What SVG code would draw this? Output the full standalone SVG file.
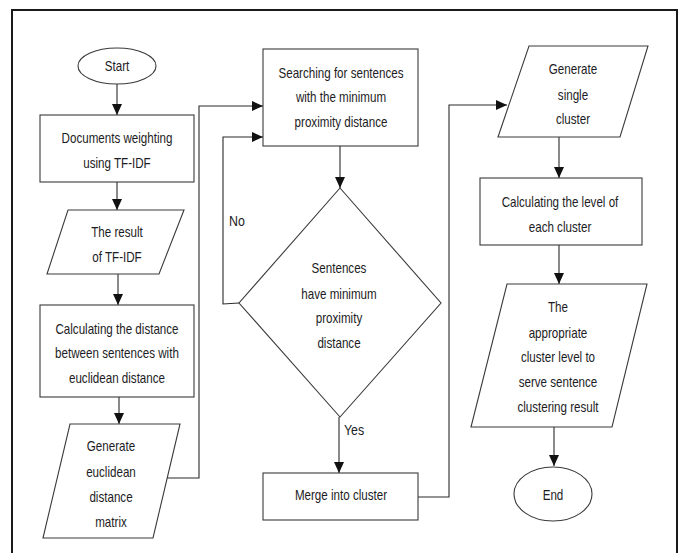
<svg xmlns="http://www.w3.org/2000/svg" width="683" height="553" viewBox="0 0 683 553">
  <style>
    .shape { fill: #ffffff; stroke: #3a3a3a; stroke-width: 1.1; }
    .wire { fill: none; stroke: #2a2a2a; stroke-width: 1.1; }
    .label { font-family: "Liberation Sans", Arial, sans-serif; font-size: 14.5px; fill: #1c1c24; text-anchor: middle; }
    .tag { font-family: "Liberation Sans", Arial, sans-serif; font-size: 15.5px; fill: #1c1c24; }
  </style>
  <defs>
    <marker id="arrow" markerUnits="userSpaceOnUse" markerWidth="12" markerHeight="10" refX="11" refY="5" orient="auto">
      <path d="M0,0 L11,5 L0,10 Z" fill="#111111"/>
    </marker>
  </defs>

  <rect width="683" height="553" fill="#ffffff"/>
  <!-- outer frame, open at the bottom -->
  <path d="M12,553 V10 H677 V553" fill="none" stroke="#1a1a1a" stroke-width="2"/>

  <!-- text is condensed horizontally (scale 0.8 about each column centre) -->
  <g id="connectors">
    <path class="wire" d="M117,84 V115" marker-end="url(#arrow)"/>
    <path class="wire" d="M117,182 V210" marker-end="url(#arrow)"/>
    <path class="wire" d="M118,274 V305" marker-end="url(#arrow)"/>
    <path class="wire" d="M119,397 V424" marker-end="url(#arrow)"/>
    <path class="wire" d="M167,478 H199 V106 H263" marker-end="url(#arrow)"/>
    <path class="wire" d="M340,146 V188" marker-end="url(#arrow)"/>
    <path class="wire" d="M239,303 L223,304 V137 H263" marker-end="url(#arrow)"/>
    <path class="wire" d="M339,417 V473" marker-end="url(#arrow)"/>
    <path class="wire" d="M418,497 H449 V105 H507" marker-end="url(#arrow)"/>
    <path class="wire" d="M559,137 V178" marker-end="url(#arrow)"/>
    <path class="wire" d="M559,245 V284" marker-end="url(#arrow)"/>
    <path class="wire" d="M554,427 V466" marker-end="url(#arrow)"/>
    <g transform="translate(45.8,0) scale(0.8,1)">
      <text class="tag" x="229" y="226">No</text>
    </g>
    <g transform="translate(68.8,0) scale(0.8,1)">
      <text class="tag" x="344" y="435">Yes</text>
    </g>
  </g>

  <g id="start">
    <ellipse class="shape" cx="117" cy="66" rx="39" ry="18"/>
    <g transform="translate(23.4,0) scale(0.8,1)">
      <text class="label" x="117" y="71">Start</text>
    </g>
  </g>

  <g id="weighting">
    <rect class="shape" x="40" y="115" width="154" height="67"/>
    <g transform="translate(23.4,0) scale(0.8,1)">
      <text class="label" x="117" y="143">Documents weighting</text>
      <text class="label" x="117" y="168">using TF-IDF</text>
    </g>
  </g>

  <g id="tfidf-result">
    <polygon class="shape" points="68,210 184,210 159,274 47,274"/>
    <g transform="translate(23.4,0) scale(0.8,1)">
      <text class="label" x="117" y="237">The result</text>
      <text class="label" x="117" y="262">of TF-IDF</text>
    </g>
  </g>

  <g id="distance">
    <rect class="shape" x="40" y="305" width="154" height="92"/>
    <g transform="translate(23.4,0) scale(0.8,1)">
      <text class="label" x="117" y="334">Calculating the distance</text>
      <text class="label" x="117" y="358">between sentences with</text>
      <text class="label" x="117" y="383">euclidean distance</text>
    </g>
  </g>

  <g id="matrix">
    <polygon class="shape" points="70,424 180,424 153,538 43,538"/>
    <g transform="translate(22.2,0) scale(0.8,1)">
      <text class="label" x="111" y="451">Generate</text>
      <text class="label" x="111" y="477">euclidean</text>
      <text class="label" x="111" y="502">distance</text>
      <text class="label" x="111" y="527">matrix</text>
    </g>
  </g>

  <g id="search">
    <rect class="shape" x="263" y="49" width="155" height="97"/>
    <g transform="translate(68.2,0) scale(0.8,1)">
      <text class="label" x="341" y="78">Searching for sentences</text>
      <text class="label" x="341" y="102">with the minimum</text>
      <text class="label" x="341" y="127">proximity distance</text>
    </g>
  </g>

  <g id="decision">
    <polygon class="shape" points="340,188 441,303 340,417 239,303"/>
    <g transform="translate(67.8,0) scale(0.8,1)">
      <text class="label" x="339" y="273">Sentences</text>
      <text class="label" x="339" y="299">have minimum</text>
      <text class="label" x="339" y="323">proximity</text>
      <text class="label" x="339" y="348">distance</text>
    </g>
  </g>

  <g id="merge">
    <rect class="shape" x="263" y="473" width="155" height="47"/>
    <g transform="translate(68.2,0) scale(0.8,1)">
      <text class="label" x="341" y="500">Merge into cluster</text>
    </g>
  </g>

  <g id="single-cluster">
    <polygon class="shape" points="529,46 648,46 620,137 498,137"/>
    <g transform="translate(114.6,0) scale(0.8,1)">
      <text class="label" x="573" y="74">Generate</text>
      <text class="label" x="573" y="100">single</text>
      <text class="label" x="573" y="124">cluster</text>
    </g>
  </g>

  <g id="level">
    <rect class="shape" x="480" y="178" width="162" height="67"/>
    <g transform="translate(112,0) scale(0.8,1)">
      <text class="label" x="560" y="207">Calculating the level of</text>
      <text class="label" x="560" y="232">each cluster</text>
    </g>
  </g>

  <g id="result">
    <polygon class="shape" points="507,284 647,284 612,427 471,427"/>
    <g transform="translate(111.6,0) scale(0.8,1)">
      <text class="label" x="558" y="312">The</text>
      <text class="label" x="558" y="338">appropriate</text>
      <text class="label" x="558" y="362">cluster level to</text>
      <text class="label" x="558" y="387">serve sentence</text>
      <text class="label" x="558" y="412">clustering result</text>
    </g>
  </g>

  <g id="end">
    <ellipse class="shape" cx="553" cy="494" rx="39" ry="27"/>
    <g transform="translate(110.6,0) scale(0.8,1)">
      <text class="label" x="553" y="500">End</text>
    </g>
  </g>
</svg>
